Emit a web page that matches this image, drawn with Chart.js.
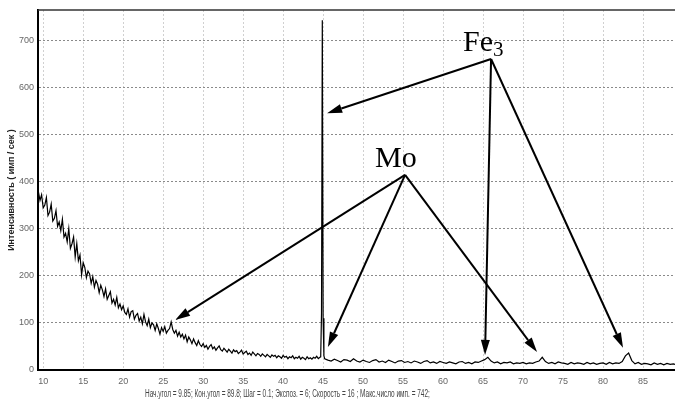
<!DOCTYPE html>
<html>
<head>
<meta charset="utf-8">
<script src="https://cdn.jsdelivr.net/npm/chart.js@4.4.1/dist/chart.umd.min.js"></script>
<style>
  body { margin: 0; background: #fff; }
  #wrap { position: relative; width: 675px; height: 409px; }
  canvas { display: block; }
  #scanInfo {
    position: absolute; left: 145px; top: 388px;
    font: 10px "Liberation Sans", Arial, sans-serif; color: #444;
    white-space: pre; transform-origin: 0 0;
  }
</style>
</head>
<body>
<div id="wrap">
  <canvas id="xrdChart" width="675" height="409"></canvas>
  <div id="scanInfo">Нач.угол = 9.85; Кон.угол = 89.8; Шаг = 0.1; Экспоз. = 6; Скорость = 16 ; Макс.число имп. = 742;</div>
</div>
<script>
// low-angle part read every 0.2 deg, starting at 9.4
const lowStart = 9.4;
const lowStep = 0.2;
const countsLow = [378, 360, 372, 344, 350, 366, 328, 335, 352, 316, 322, 338, 305, 314, 296, 320, 282, 290, 272, 300,
  258, 268, 282, 240, 268, 232, 244, 202, 228, 218, 196, 210, 204, 184, 198, 176, 190, 182, 164, 180,
  170, 156, 172, 150, 158, 166, 142, 150, 138, 154, 132, 140, 128];
const countsMid = [136, 122, 118, 130, 112, 124, 126, 108, 116, 120, 104, 112, 98, 118, 102, 94, 108, 90, 100, 96,
  84, 98, 88, 76, 90, 82, 92, 78, 84, 88, 102, 86, 78, 84, 72, 80, 70, 76, 66, 74,
  60, 70, 64, 56, 66, 58, 52, 62, 54, 50];
const countsSlope = [56, 48, 52, 44, 50, 54, 45, 49, 42, 47, 51, 43, 40, 46, 42, 38, 44, 40, 36, 43,
  39, 41, 35, 38, 42, 34, 37, 40, 33, 36, 31, 38, 34, 30, 35, 33, 29, 34, 31, 28,
  33, 30, 27, 32, 29, 31, 26, 30, 28, 25, 31, 27, 29, 24, 28, 26, 30, 24, 27, 25,
  29, 23, 27, 25, 22, 28, 24, 26, 23, 27, 25, 29, 24, 27];

// the sharp Fe line near 45 deg
const spikeAngles = [44.7, 44.8, 44.9, 45.0, 45.1];
const spikeCounts = [28, 120, 742, 110, 30];

// high-angle part read every 0.4 deg, starting at 45.2
const highStart = 45.2;
const highStep = 0.4;
const counts45 = [24, 21, 19, 23, 20, 17, 22, 21, 18, 24, 19, 17];
const counts50 = [21, 18, 16, 20, 22, 17, 19, 16, 21, 18, 15, 19, 20, 16, 18, 15, 19, 17, 14, 18, 20, 15, 17, 14, 18];
const counts60 = [16, 14, 17, 15, 13, 17, 18, 14, 16, 13, 17, 16, 19, 22, 27, 19, 15, 17, 13, 16, 15, 17, 13, 15, 14];
const counts70 = [16, 13, 15, 14, 17, 19, 27, 18, 14, 16, 13, 17, 15, 14, 12, 16, 13, 15, 14, 12, 16, 13, 15, 12, 14];
const counts80 = [15, 12, 16, 13, 15, 14, 18, 30, 36, 20, 13, 16, 12, 14, 13, 11, 15, 12, 14, 11, 14, 12, 13, 11, 12];

const xTicks = [10, 15, 20, 25, 30, 35, 40, 45, 50, 55, 60, 65, 70, 75, 80, 85];
const yTicks = [0, 100, 200, 300, 400, 500, 600, 700];

// annotation anchors in data units [angle, counts]
const feLabel = [62.5, 677];
const feFrom = [66, 660];
const feTargets = [[45.5, 545], [65.25, 32], [82.5, 47]];
const moLabel = [51.5, 431];
const moFrom = [55.25, 414];
const moTargets = [[26.5, 106], [45.6, 49], [71.75, 38]];

const lowCounts = [].concat(countsLow, countsMid, countsSlope);
const highCounts = [].concat(counts45, counts50, counts60, counts70, counts80);
const points = [];
lowCounts.forEach((c, i) => points.push({ x: +(lowStart + i * lowStep).toFixed(2), y: c }));
spikeAngles.forEach((a, i) => points.push({ x: a, y: spikeCounts[i] }));
highCounts.forEach((c, i) => points.push({ x: +(highStart + i * highStep).toFixed(2), y: c }));

function arrow(ctx, x1, y1, x2, y2) {
  const ang = Math.atan2(y2 - y1, x2 - x1);
  const len = 15, half = 4.5;
  const bx = x2 - len * Math.cos(ang), by = y2 - len * Math.sin(ang);
  ctx.beginPath();
  ctx.moveTo(x1, y1);
  ctx.lineTo(bx, by);
  ctx.stroke();
  ctx.beginPath();
  ctx.moveTo(x2, y2);
  ctx.lineTo(bx + half * Math.sin(ang), by - half * Math.cos(ang));
  ctx.lineTo(bx - half * Math.sin(ang), by + half * Math.cos(ang));
  ctx.closePath();
  ctx.fill();
}

const annotations = {
  id: "annotations",
  afterDatasetsDraw(chart) {
    const { ctx, chartArea, scales: { x, y } } = chart;
    ctx.save();
    // frame top
    ctx.strokeStyle = "#333";
    ctx.lineWidth = 1.5;
    ctx.beginPath();
    ctx.moveTo(chartArea.left, chartArea.top);
    ctx.lineTo(chartArea.right, chartArea.top);
    ctx.stroke();

    ctx.strokeStyle = "#000";
    ctx.fillStyle = "#000";
    ctx.lineWidth = 2;
    const fx = x.getPixelForValue(feFrom[0]), fy = y.getPixelForValue(feFrom[1]);
    feTargets.forEach(t => arrow(ctx, fx, fy, x.getPixelForValue(t[0]), y.getPixelForValue(t[1])));
    const mx = x.getPixelForValue(moFrom[0]), my = y.getPixelForValue(moFrom[1]);
    moTargets.forEach(t => arrow(ctx, mx, my, x.getPixelForValue(t[0]), y.getPixelForValue(t[1])));

    ctx.textBaseline = "alphabetic";
    ctx.textAlign = "left";
    ctx.font = '30px "Liberation Serif", "DejaVu Serif", serif';
    const lx = x.getPixelForValue(feLabel[0]), ly = y.getPixelForValue(feLabel[1]);
    ctx.fillText("Fe", lx, ly);
    const w = ctx.measureText("Fe").width;
    ctx.font = '21px "Liberation Serif", "DejaVu Serif", serif';
    ctx.fillText("3", lx + w, ly + 5);
    ctx.font = '30px "Liberation Serif", "DejaVu Serif", serif';
    ctx.fillText("Mo", x.getPixelForValue(moLabel[0]), y.getPixelForValue(moLabel[1]));
    ctx.restore();
  }
};

new Chart(document.getElementById("xrdChart"), {
  type: "line",
  data: {
    datasets: [{
      data: points,
      borderColor: "#000",
      borderWidth: 1.2,
      pointRadius: 0,
      tension: 0,
      fill: false
    }]
  },
  options: {
    responsive: false,
    animation: false,
    events: [],
    layout: { padding: { top: 10, left: 0, right: 0, bottom: 0 } },
    plugins: { legend: { display: false }, tooltip: { enabled: false } },
    scales: {
      x: {
        type: "linear",
        min: 9.35,
        max: 89.0,
        afterBuildTicks: s => { s.ticks = xTicks.map(v => ({ value: v })); },
        afterFit: s => { s.height = 39; },
        grid: { color: "#d0d0d0", lineWidth: 1, drawTicks: false },
        border: { display: true, color: "#000", width: 2, dash: [2, 2] },
        ticks: {
          padding: 6,
          color: "#666",
          font: { family: "'Liberation Sans Narrow', 'Liberation Sans', Arial", size: 9 },
          maxRotation: 0,
          autoSkip: false
        }
      },
      y: {
        min: 0,
        max: 764,
        afterBuildTicks: s => { s.ticks = yTicks.map(v => ({ value: v })); },
        afterFit: s => { s.width = 38; },
        grid: { color: "#8a8a8a", lineWidth: 1, drawTicks: false },
        border: { display: true, color: "#000", width: 2, dash: [2, 2] },
        ticks: {
          padding: 4,
          color: "#666",
          font: { family: "'Liberation Sans', Arial", size: 9 }
        },
        title: {
          display: true,
          text: "Интенсивность ( имп / сек )",
          color: "#222",
          font: { family: "'Liberation Sans', Arial", size: 9, weight: "bold" },
          padding: { top: 6, bottom: 0 }
        }
      }
    }
  },
  plugins: [annotations]
});

// squeeze the scan line to the width it has in the picture
const info = document.getElementById("scanInfo");
info.style.transform = "scaleX(" + (285 / info.offsetWidth).toFixed(3) + ")";
</script>
</body>
</html>
